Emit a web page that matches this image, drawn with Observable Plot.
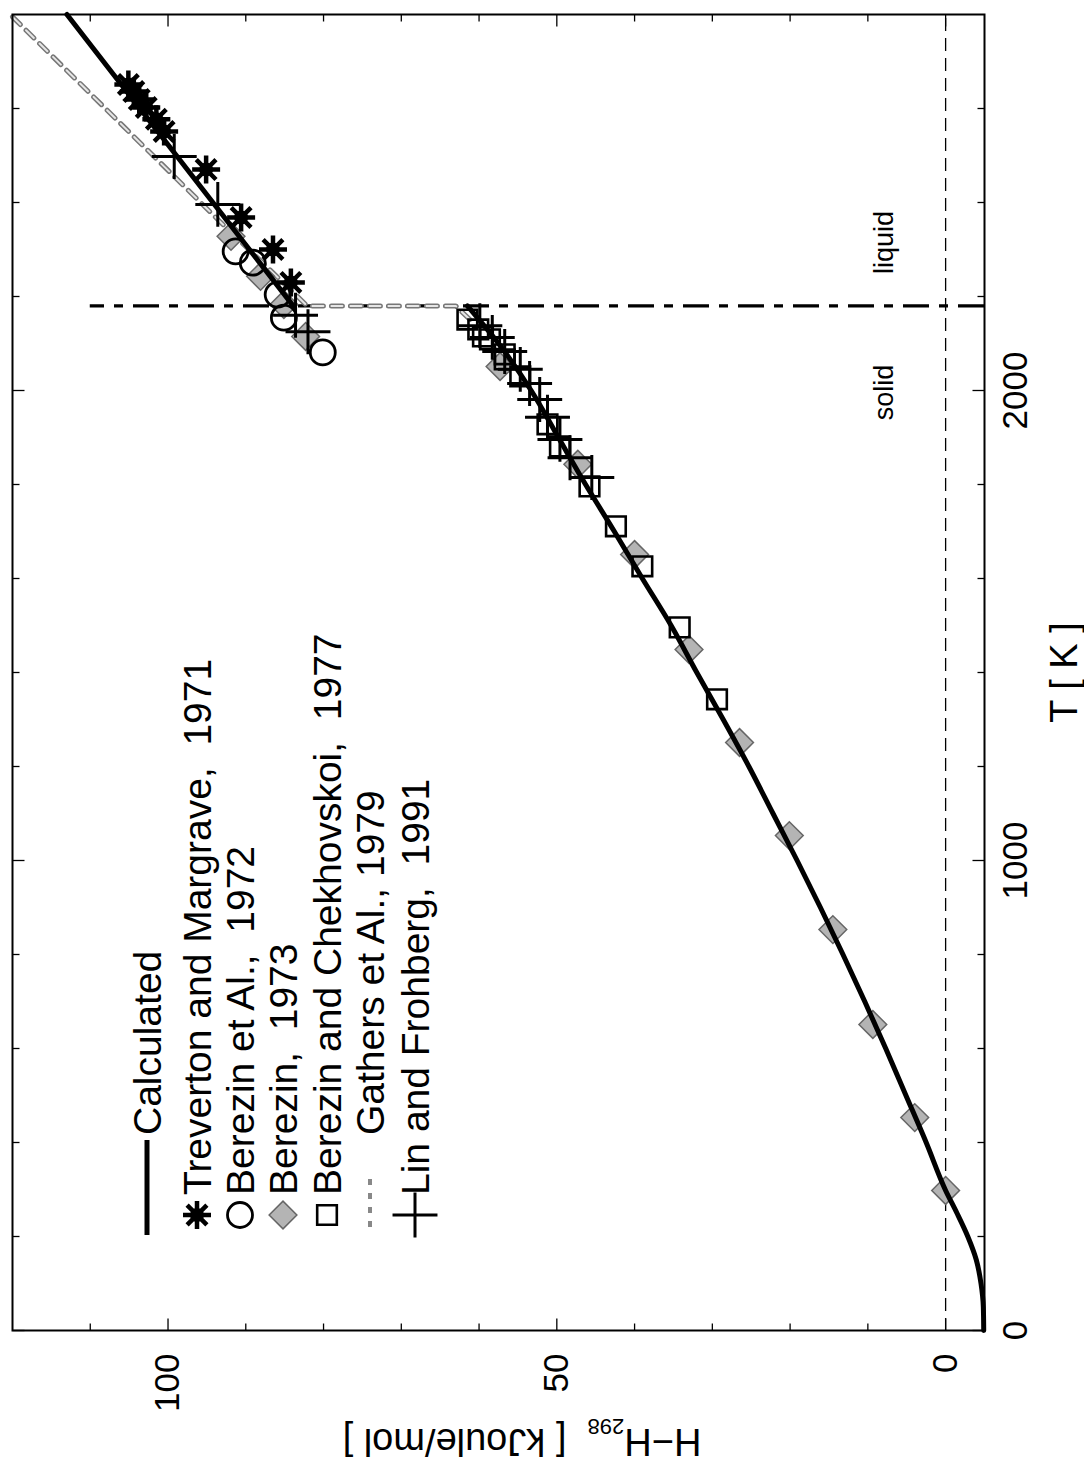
<!DOCTYPE html>
<html><head><meta charset="utf-8">
<script src="https://cdn.jsdelivr.net/npm/d3@7"></script>
<script src="https://cdn.jsdelivr.net/npm/@observablehq/plot@0.6"></script>
<style>
html,body{margin:0;padding:0;background:#fff;}
#wrap{position:relative;width:1084px;height:1477px;overflow:hidden;background:#fff;}
#wrap svg{position:absolute;left:0;top:0;transform-origin:0 0;transform:translate(0px,1477px) rotate(-90deg);max-width:none;}
</style></head><body><div id="wrap"></div>
<script>
// ---------------- data ----------------
const T_MELT = 2180;
const tMajor = [0, 1000, 2000];
const tMinor = [200, 400, 600, 800, 1200, 1400, 1600, 1800, 2200, 2400, 2600];
const hMajor = [0, 50, 100];
const hMinor = [10, 20, 30, 40, 60, 70, 80, 90, 110];

const calcSolidT = [0, 50, 100, 150, 200, 250, 298, 400, 500, 600, 700, 800, 900, 1000, 1100, 1200, 1300, 1400, 1500, 1600, 1700, 1800, 1900, 2000, 2100, 2180];
const calcSolidH = [-4.9, -4.85, -4.55, -3.95, -2.85, -1.45, 0, 2.5, 5.1, 7.7, 10.4, 13.2, 16.1, 19.1, 22.2, 25.3, 28.6, 32.0, 35.3, 39.0, 42.6, 46.3, 49.8, 53.3, 57.5, 61.5];
const calcLiquidT = [2180, 2800];
const calcLiquidH = [83.9, 113.0];

const gathersT = [2795, 2364, 2180, 2180, 2140];
const gathersH = [120.0, 93.6, 82.1, 63.0, 60.5];

const trevertonT = [2651, 2636, 2619, 2602, 2577, 2551, 2470, 2368, 2300, 2230];
const trevertonH = [105.1, 104.4, 103.7, 102.8, 101.5, 100.5, 95.1, 90.6, 86.5, 84.2];

const berezin72T = [2296, 2272, 2204, 2155, 2081];
const berezin72H = [91.3, 89.1, 85.9, 85.1, 80.1];

const berezin73T = [298, 453, 651, 853, 1053, 1251, 1449, 1651, 1843, 2051, 2328, 2243, 2183, 2115];
const berezin73H = [0, 3.97, 9.36, 14.5, 20.1, 26.5, 33.0, 40.0, 47.3, 57.3, 91.9, 88.1, 85.1, 82.3];

const chekhT = [1343, 1496, 1626, 1711, 1796, 1881, 1928, 2030, 2066, 2077, 2109, 2115, 2130, 2151];
const chekhH = [29.4, 34.2, 39.0, 42.4, 45.8, 49.6, 51.2, 54.7, 56.7, 56.7, 58.6, 59.5, 60.1, 61.5];

const linT = [1815, 1857, 1896, 1943, 1981, 2015, 2045, 2083, 2113, 2138, 2498, 2396, 2160, 2125];
const linH = [45.5, 48.3, 49.6, 51.2, 52.2, 53.5, 54.7, 56.7, 58.3, 59.9, 99.2, 93.6, 83.6, 82.0];

const legendLabels = ["Calculated", "Treverton and Margrave,  1971", "Berezin et Al.,  1972", "Berezin,  1973", "Berezin and Chekhovskoi,  1977", "Gathers et Al., 1979", "Lin and Frohberg,  1991"];
const phaseLabels = [{T: 2315, H: 7.9, text: "liquid"}, {T: 1996, H: 7.9, text: "solid"}];

// ---------------- helpers ----------------
const FONT = "'Liberation Sans', Arial, Helvetica, sans-serif";
const zip = (T, H) => T.map((t, i) => ({T: t, H: H[i]}));
function lineSym(dx, dy) { return {draw(ctx, size) { const r = Math.sqrt(size / Math.PI); ctx.moveTo(0, 0); ctx.lineTo(dx * r, dy * r); }}; }
const tickUp = lineSym(0, -1), tickDown = lineSym(0, 1), tickRight = lineSym(1, 0), tickLeft = lineSym(-1, 0);
const ast8 = {draw(ctx, size) { const r = Math.sqrt(size / Math.PI); for (let i = 0; i < 4; i++) { const a = i * Math.PI / 4, c = Math.cos(a) * r, s = Math.sin(a) * r; ctx.moveTo(c, s); ctx.lineTo(-c, -s); } }};

const calcSolid = zip(calcSolidT, calcSolidH);
const calcLiquid = zip(calcLiquidT, calcLiquidH);
const gathers = zip(gathersT, gathersH);
const treverton = zip(trevertonT, trevertonH);
const berezin72 = zip(berezin72T, berezin72H);
const berezin73 = zip(berezin73T, berezin73H);
const chekh = zip(chekhT, chekhH);
const lin = zip(linT, linH);

const TMIN = 0, TMAX = 2800, HMIN = -5, HMAX = 120;
const tickMarks = (vals, len) => [
  Plot.dot(vals, {x: d => d, y: () => HMIN, symbol: tickUp, r: len, stroke: "black", strokeWidth: 1.3}),
  Plot.dot(vals, {x: d => d, y: () => HMAX, symbol: tickDown, r: len, stroke: "black", strokeWidth: 1.3})
];
const hTickMarks = (vals, len) => [
  Plot.dot(vals, {y: d => d, x: () => TMIN, symbol: tickRight, r: len, stroke: "black", strokeWidth: 1.3}),
  Plot.dot(vals, {y: d => d, x: () => TMAX, symbol: tickLeft, r: len, stroke: "black", strokeWidth: 1.3})
];

const chart = Plot.plot({
  width: 1477, height: 1084,
  marginLeft: 146, marginRight: 15, marginTop: 12, marginBottom: 100,
  style: {fontFamily: FONT, background: "white", overflow: "visible"},
  x: {domain: [TMIN, TMAX], axis: null},
  y: {domain: [HMIN, HMAX], axis: null},
  marks: [
    Plot.ruleY([0], {stroke: "black", strokeWidth: 1.3, strokeDasharray: "13,7"}),
    Plot.ruleX([T_MELT], {y1: HMIN, y2: 110, stroke: "black", strokeWidth: 3.2, strokeDasharray: "26,10,9,10"}),
    Plot.line(gathers, {x: "T", y: "H", stroke: "#777", strokeWidth: 5, strokeDasharray: "11,8"}),
    Plot.line(gathers, {x: "T", y: "H", stroke: "#e6e6e6", strokeWidth: 2, strokeDasharray: "11,8"}),
    Plot.dot(berezin73, {x: "T", y: "H", symbol: "diamond2", r: 12.5, fill: "#b4b4b4", stroke: "#666", strokeWidth: 1.5}),
    Plot.dot(chekh, {x: "T", y: "H", symbol: "square2", r: 12.5, fill: "none", stroke: "black", strokeWidth: 2.6}),
    Plot.line(calcSolid, {x: "T", y: "H", stroke: "black", strokeWidth: 5, curve: "monotone-x"}),
    Plot.line(calcLiquid, {x: "T", y: "H", stroke: "black", strokeWidth: 5}),
    Plot.dot(berezin72, {x: "T", y: "H", symbol: "circle", r: 12.5, fill: "none", stroke: "black", strokeWidth: 2.8}),
    Plot.dot(lin, {x: "T", y: "H", symbol: "plus", r: 14.5, fill: "none", stroke: "black", strokeWidth: 3}),
    Plot.dot(treverton, {x: "T", y: "H", symbol: ast8, r: 14, fill: "none", stroke: "black", strokeWidth: 4.5}),
    Plot.dot(treverton, {x: "T", y: "H", r: 7, fill: "black"}),
    ...tickMarks(tMinor, 7), ...tickMarks(tMajor, 12),
    ...hTickMarks(hMinor, 7), ...hTickMarks(hMajor, 12),
    Plot.frame({stroke: "black", strokeWidth: 2}),
    Plot.text(tMajor, {x: d => d, frameAnchor: "bottom", dy: 31, fontSize: 35, lineAnchor: "middle", text: d => String(d)}),
    Plot.text(hMajor, {y: d => d, frameAnchor: "left", dx: -23, fontSize: 35, textAnchor: "end", lineAnchor: "middle", text: d => String(d)}),
    Plot.text(phaseLabels, {x: "T", y: "H", text: "text", fontSize: 27, lineAnchor: "middle"}),
    Plot.text(["T [ K ]"], {frameAnchor: "bottom", dy: 80, fontSize: 38, lineAnchor: "middle"})
  ]
});

document.getElementById("wrap").appendChild(chart);

// ---------- y-axis title and legend (svg pixel space before rotation) ----------
const svg = d3.select(chart);
const ylab = svg.append("text")
  .attr("transform", "translate(48,522) rotate(-90)")
  .attr("text-anchor", "middle")
  .attr("font-family", FONT).attr("font-size", 38).attr("fill", "black");
ylab.append("tspan").text("H\u2212H");
ylab.append("tspan").attr("font-size", 22).attr("dy", 10).text("298");
ylab.append("tspan").attr("dy", -10).text("  [ kJoule/mol ]");

const lg = svg.append("g").attr("font-family", FONT).attr("font-size", 39).attr("fill", "black").attr("text-anchor", "start").style("white-space", "pre");
const rowsY = [147, 197, 240, 283, 327, 370, 415];
const symX = 262, textX = 282, textX2 = 342;
const sym = (type, r) => d3.symbol().type(type).size(Math.PI * r * r)();
// Calculated
lg.append("line").attr("x1", 242).attr("x2", 337).attr("y1", rowsY[0]).attr("y2", rowsY[0]).attr("stroke", "black").attr("stroke-width", 5);
// Treverton
lg.append("path").attr("d", sym(ast8, 14)).attr("transform", `translate(${symX},${rowsY[1]})`).attr("fill", "none").attr("stroke", "black").attr("stroke-width", 4.5);
lg.append("circle").attr("cx", symX).attr("cy", rowsY[1]).attr("r", 7).attr("fill", "black");
// Berezin 72
lg.append("circle").attr("cx", symX).attr("cy", rowsY[2]).attr("r", 12.5).attr("fill", "none").attr("stroke", "black").attr("stroke-width", 2.8);
// Berezin 73
lg.append("path").attr("d", sym(d3.symbolDiamond2, 12.5)).attr("transform", `translate(${symX},${rowsY[3]})`).attr("fill", "#b4b4b4").attr("stroke", "#666").attr("stroke-width", 1.5);
// Chekhovskoi
lg.append("path").attr("d", sym(d3.symbolSquare2, 12.5)).attr("transform", `translate(${symX},${rowsY[4]})`).attr("fill", "none").attr("stroke", "black").attr("stroke-width", 2.6);
// Gathers
lg.append("line").attr("x1", 250).attr("x2", 305).attr("y1", rowsY[5]).attr("y2", rowsY[5]).attr("stroke", "#888").attr("stroke-width", 4).attr("stroke-dasharray", "6,8");
// Lin
lg.append("path").attr("d", sym(d3.symbolPlus, 14.5)).attr("transform", `translate(${symX},${rowsY[6]})`).attr("fill", "none").attr("stroke", "black").attr("stroke-width", 3);

legendLabels.forEach((lab, i) => {
  lg.append("text").attr("x", (i === 0 || i === 5) ? textX2 : textX).attr("y", rowsY[i]).attr("dy", "0.36em").attr("text-anchor", "start").attr("xml:space", "preserve").style("white-space", "pre").text(lab);
});
</script></body></html>
